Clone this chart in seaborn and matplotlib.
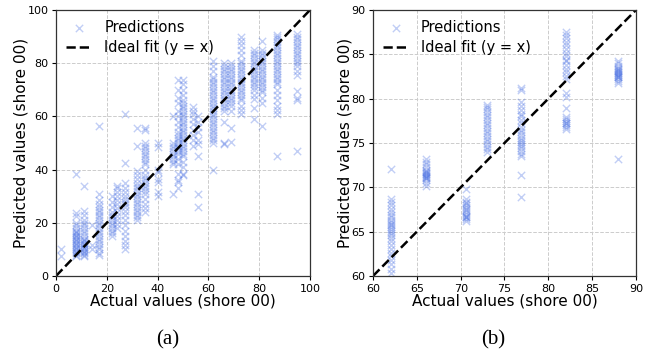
import numpy as np
import pandas as pd
import matplotlib
matplotlib.use("Agg")
import matplotlib.pyplot as plt
import seaborn as sns

# ---------------- Panel (a): full range ----------------
a_x = [2, 8, 11, 14, 17, 22, 24, 27, 32, 35, 40, 46, 48, 50, 54, 56,
       62, 66, 69, 73, 78, 81, 87, 95]
a_02 = [7.5, 10.3]
a_08 = [7.5, 8, 8.5, 9, 9.5, 10, 10.5, 11, 11.5, 12, 12.5, 13, 13.5, 14, 14.5,
        15, 15.5, 16, 16.5, 17, 18, 19, 20, 22.5, 23.5, 38.3]
a_11 = [7.5, 8, 8.5, 9, 9.5, 10, 10.5, 11, 11.5, 12, 12.5, 13, 13.5, 14, 15,
        16, 17, 18, 19, 20, 21, 23, 24.5, 33.8]
a_14 = [10, 11.5, 19]
a_17 = [8, 8.5, 10, 11, 12, 13, 14, 15, 16, 17, 18, 19, 20, 21, 22, 23, 24,
        25, 26, 27, 28.5, 31, 56.5]
a_22 = [15, 16, 17, 18, 19, 20, 21, 22, 23, 24, 26, 28, 30]
a_24 = [18, 19.5, 21, 22.5, 24, 25.5, 27, 28.5, 30, 31.5, 33, 34]
a_27 = [10, 11.5, 13, 15, 17, 19, 21, 23, 24.5, 26, 27, 28, 29, 30, 31.5, 33,
        35, 42.5, 61]
a_32 = [21, 22, 23, 24, 25, 26, 27, 28, 29, 30, 31, 32, 33, 34, 35, 36.5, 38,
        39.5, 49, 55.5]
a_35 = [24, 25.5, 27, 29, 31, 32, 33, 34, 35, 36, 37, 38, 40, 42, 43, 44, 45,
        46, 47, 48, 49, 50, 55, 55.8]
a_40 = [30, 31.5, 35.5, 36.5, 39, 40, 48.5, 50]
a_46 = [31, 42, 43, 44, 45, 46, 47, 48, 49, 50, 60]
a_48 = [33, 35.5, 36, 38.5, 42, 44, 46, 47, 48, 49, 50, 51, 52, 53, 54, 56,
        58, 60, 62, 65, 67, 70, 73.5]
a_50 = [38, 38.5, 41, 43, 45, 46, 47, 48, 49, 50, 51, 52, 53, 54, 55, 56, 57,
        58, 59, 60, 61, 62, 63, 64, 65, 66, 68, 70, 72, 73.5]
a_54 = [49, 51, 53, 55, 57, 59, 61, 62, 63.5]
a_56 = [26, 31, 45, 49.5, 51, 54, 56, 58, 60]
a_62 = [40, 50, 51, 52, 53, 54, 55, 56, 57, 58, 59, 60, 61, 62, 63, 64, 65, 66,
        67, 68, 69, 70, 71, 72, 73, 74, 75, 77, 79, 81]
a_66 = [49.5, 50, 58, 62, 63, 64, 65, 66, 67, 68, 69, 70, 71, 72, 73, 74, 75,
        76, 77, 78, 79, 80]
a_69 = [50.5, 55.5, 62, 64, 65, 66, 67, 68, 69, 70, 71, 72, 73, 74, 75, 76, 77,
        78, 79, 80]
a_73 = [61, 62.5, 64, 66, 67, 68, 69, 70, 71, 72, 73, 74, 75, 76, 77, 78, 79,
        80, 81, 83, 85, 87, 88.5, 90]
a_78 = [59, 63, 66.5, 68, 70, 71, 72, 73, 74, 75, 76, 77, 78, 79, 80, 81, 82,
        83, 84, 85]
a_81 = [56.5, 65, 67, 69, 70, 71, 72, 73, 74, 75, 76, 77, 78, 79, 80, 81, 82,
        83, 84, 85, 88.5]
a_87 = [45, 61, 62.5, 64, 66, 68, 70, 72, 73, 74, 75, 76, 77, 78, 79, 80, 81,
        82, 83, 84, 85, 86, 87, 88, 89, 90, 90.5]
a_95 = [47, 66, 67, 69.5, 75.5, 77, 79, 80, 81, 82, 83, 84, 85, 86, 87, 88,
        89, 90, 91]
a_pred = [a_02, a_08, a_11, a_14, a_17, a_22, a_24, a_27, a_32, a_35, a_40,
          a_46, a_48, a_50, a_54, a_56, a_62, a_66, a_69, a_73, a_78, a_81,
          a_87, a_95]
a_lims = [0, 100]
a_ticks = [0, 20, 40, 60, 80, 100]

# ---------------- Panel (b): subset ----------------
b_x = [62, 66, 70.6, 73, 76.9, 82, 88]
b_62 = [60.3, 60.8, 61.3, 61.8, 62.2, 62.6, 63.0, 63.5, 64.0, 64.3, 64.6, 64.9,
        65.1, 65.3, 65.5, 65.7, 65.9, 66.1, 66.3, 66.6, 66.9, 67.2, 67.6, 68.0,
        68.4, 68.7, 72.1]
b_66 = [70.2, 70.5, 70.8, 71.0, 71.1, 71.2, 71.3, 71.4, 71.5, 71.6, 71.7, 71.8,
        72.0, 72.3, 72.6, 72.9, 73.2]
b_70 = [66.2, 66.4, 66.6, 66.7, 66.8, 67.0, 67.2, 67.4, 67.6, 67.8, 68.0, 68.2,
        68.4, 68.7, 69.8]
b_73 = [74.0, 74.3, 74.6, 74.9, 75.2, 75.5, 75.8, 76.1, 76.4, 76.7, 77.0, 77.3,
        77.6, 77.9, 78.2, 78.5, 78.8, 79.1, 79.3]
b_77 = [68.9, 71.4, 73.5, 73.8, 74.1, 74.4, 74.7, 74.9, 75.1, 75.3, 75.6, 75.9,
        76.2, 76.5, 76.8, 77.2, 77.6, 78.0, 78.3, 78.7, 79.2, 79.6, 81.0, 81.2]
b_82 = [76.6, 76.8, 77.0, 77.2, 77.3, 77.5, 77.7, 77.9, 78.9, 80.2, 80.6, 82.2,
        82.6, 83.0, 83.4, 83.8, 84.2, 84.4, 84.8, 85.2, 85.6, 86.0, 86.4, 86.8,
        87.2, 87.5]
b_88 = [73.2, 81.8, 82.0, 82.2, 82.4, 82.5, 82.6, 82.7, 82.8, 82.9, 83.0, 83.1,
        83.2, 83.3, 83.5, 83.7, 84.0, 84.3]
b_pred = [b_62, b_66, b_70, b_73, b_77, b_82, b_88]
b_lims = [60, 90]
b_ticks = [60, 65, 70, 75, 80, 85, 90]

MARK_COLOR = "#4169E1"


def build(xs, preds):
    rows = []
    for x, ys in zip(xs, preds):
        for y in ys:
            rows.append((x, y))
    return pd.DataFrame(rows, columns=["actual", "pred"])


fig = plt.figure(figsize=(6.56, 3.56), dpi=100)
W, H = 656, 356
ax_a = fig.add_axes([56 / W, 1 - 276 / H, 254 / W, 266 / H])
ax_b = fig.add_axes([373 / W, 1 - 276 / H, 263 / W, 266 / H])


def draw(ax, xs, preds, lims, ticks):
    df = build(xs, preds)
    ax.set_axisbelow(True)
    ax.grid(True, linestyle="--", color="#cccccc", linewidth=0.7)
    sns.scatterplot(data=df, x="actual", y="pred", ax=ax, marker="x",
                    color=MARK_COLOR, alpha=0.32, s=28, linewidth=1.0,
                    label="Predictions")
    line_df = pd.DataFrame({"x": lims, "y": lims})
    sns.lineplot(data=line_df, x="x", y="y", ax=ax, color="black",
                 linestyle="--", linewidth=1.8, label="Ideal fit (y = x)")
    ax.set_xlim(lims)
    ax.set_ylim(lims)
    ax.set_xticks(ticks)
    ax.set_yticks(ticks)
    ax.tick_params(labelsize=8, length=3, width=0.8, pad=2.5)
    ax.set_xlabel("Actual values (shore 00)", fontsize=11, labelpad=0)
    ax.set_ylabel("Predicted values (shore 00)", fontsize=11, labelpad=-1)
    for sp in ax.spines.values():
        sp.set_linewidth(0.9)
        sp.set_color("#333333")
    ax.legend(loc="upper left", frameon=False, fontsize=10.5,
              handlelength=1.8, handletextpad=0.8, borderaxespad=0.3,
              labelspacing=0.35)


draw(ax_a, a_x, a_pred, a_lims, a_ticks)
draw(ax_b, b_x, b_pred, b_lims, b_ticks)

fig.text(168 / W, 1 - 340 / H, "(a)", ha="center", va="center",
         fontsize=15, family=["Liberation Serif", "DejaVu Serif"])
fig.text(493 / W, 1 - 340 / H, "(b)", ha="center", va="center",
         fontsize=15, family=["Liberation Serif", "DejaVu Serif"])

fig.savefig("out.png", dpi=100)
